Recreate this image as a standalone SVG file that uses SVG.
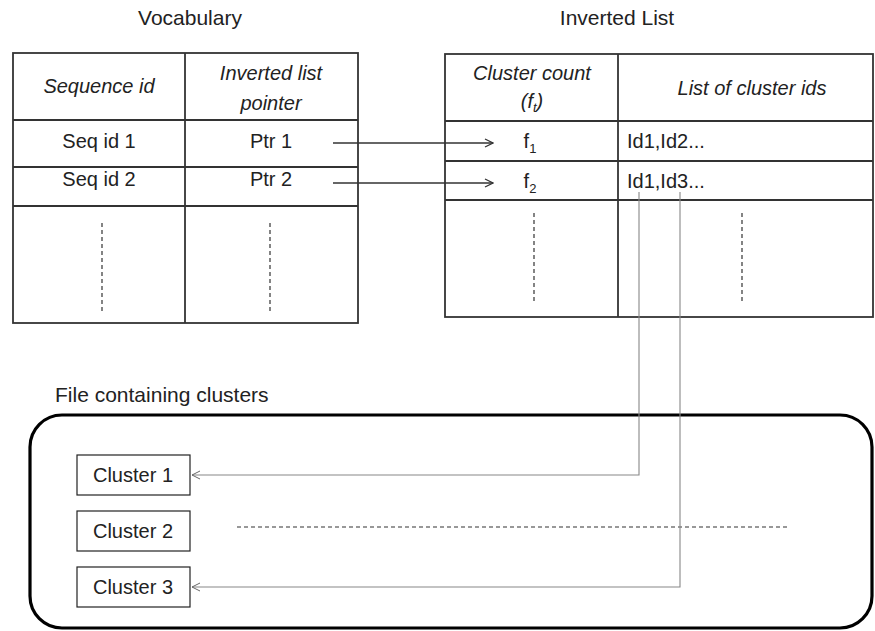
<svg xmlns="http://www.w3.org/2000/svg" width="875" height="631" viewBox="0 0 875 631">
  <defs>
    <marker id="chev" viewBox="0 0 10 10" refX="9" refY="5" markerWidth="10" markerHeight="10" markerUnits="userSpaceOnUse" orient="auto">
      <path d="M1,1 L9,5 L1,9" fill="none" stroke="#333" stroke-width="1.3"/>
    </marker>
    <marker id="chevg" viewBox="0 0 10 10" refX="9" refY="5" markerWidth="10" markerHeight="10" markerUnits="userSpaceOnUse" orient="auto">
      <path d="M1,1 L9,5 L1,9" fill="none" stroke="#666" stroke-width="1"/>
    </marker>
  </defs>
  <style>
    text { font-family: "Liberation Sans", Arial, sans-serif; fill: #222; }
    .title { font-size: 21px; }
    .cell { font-size: 20px; text-anchor: middle; }
    .hdr { font-size: 20px; font-style: italic; text-anchor: middle; }
    .ids { font-size: 20px; }
    .tbl { fill: #fff; stroke: #333; stroke-width: 1.8; }
    .grid { stroke: #333; stroke-width: 1.8; }
    .dots { stroke: #333; stroke-width: 1.2; stroke-dasharray: 4 3; fill: none; }
    .ptr { stroke: #333; stroke-width: 1.3; fill: none; }
    .ref { stroke: #888; stroke-width: 1.1; fill: none; }
    .box { fill: #fff; stroke: #222; stroke-width: 1.2; }
    .frame { fill: none; stroke: #000; stroke-width: 3.2; }
  </style>
  <rect width="875" height="631" fill="#fff"/>

  <g id="vocabulary">
    <text class="title" x="190" y="25" text-anchor="middle">Vocabulary</text>
    <rect class="tbl" x="13" y="53" width="345" height="270"/>
    <line class="grid" x1="185" y1="53" x2="185" y2="323"/>
    <line class="grid" x1="13" y1="120" x2="358" y2="120"/>
    <line class="grid" x1="13" y1="167" x2="358" y2="167"/>
    <line class="grid" x1="13" y1="206" x2="358" y2="206"/>
    <text class="hdr" x="99" y="93">Sequence id</text>
    <text class="hdr" x="271" y="80">Inverted list</text>
    <text class="hdr" x="271" y="110">pointer</text>
    <text class="cell" x="99" y="148">Seq id 1</text>
    <text class="cell" x="271" y="148">Ptr 1</text>
    <text class="cell" x="99" y="186">Seq id 2</text>
    <text class="cell" x="271" y="186">Ptr 2</text>
    <line class="dots" x1="102" y1="223" x2="102" y2="312"/>
    <line class="dots" x1="270" y1="223" x2="270" y2="312"/>
  </g>

  <g id="inverted-list">
    <text class="title" x="617" y="25" text-anchor="middle">Inverted List</text>
    <rect class="tbl" x="445" y="54" width="428" height="263"/>
    <line class="grid" x1="618" y1="54" x2="618" y2="317"/>
    <line class="grid" x1="445" y1="121" x2="873" y2="121"/>
    <line class="grid" x1="445" y1="161" x2="873" y2="161"/>
    <line class="grid" x1="445" y1="200" x2="873" y2="200"/>
    <text class="hdr" x="532" y="80">Cluster count</text>
    <text class="hdr" x="532" y="108">(f<tspan font-size="13" dy="4">t</tspan><tspan dy="-4">)</tspan></text>
    <text class="hdr" x="752" y="95">List of cluster ids</text>
    <text class="cell" x="530" y="148">f<tspan font-size="13" dy="5">1</tspan></text>
    <text class="cell" x="530" y="188">f<tspan font-size="13" dy="5">2</tspan></text>
    <text class="ids" x="627" y="148">Id1,Id2...</text>
    <text class="ids" x="627" y="188">Id1,Id3...</text>
    <line class="dots" x1="534" y1="213" x2="534" y2="303"/>
    <line class="dots" x1="742" y1="213" x2="742" y2="303"/>
  </g>

  <g id="cluster-file">
    <text class="title" x="55" y="402">File containing clusters</text>
    <rect class="frame" x="30" y="415" width="842" height="213" rx="32" ry="32"/>
    <line class="dots" x1="237" y1="527" x2="789" y2="527"/>
  </g>

  <g id="cluster-1">
    <rect class="box" x="77" y="455" width="113" height="40"/>
    <text class="cell" x="133" y="482">Cluster 1</text>
  </g>
  <g id="cluster-2">
    <rect class="box" x="77" y="511" width="113" height="40"/>
    <text class="cell" x="133" y="538">Cluster 2</text>
  </g>
  <g id="cluster-3">
    <rect class="box" x="77" y="567" width="113" height="40"/>
    <text class="cell" x="133" y="594">Cluster 3</text>
  </g>

  <g id="connectors">
    <line class="ptr" x1="333" y1="143" x2="493" y2="143" marker-end="url(#chev)"/>
    <line class="ptr" x1="333" y1="183" x2="493" y2="183" marker-end="url(#chev)"/>
    <polyline class="ref" points="639,192 639,475 192,475" marker-end="url(#chevg)"/>
    <polyline class="ref" points="680,192 680,587 192,587" marker-end="url(#chevg)"/>
  </g>
</svg>
